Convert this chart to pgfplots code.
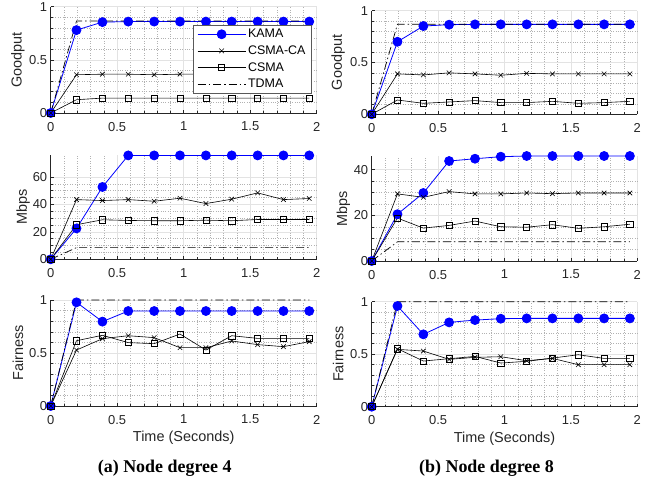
\documentclass[border=0pt]{standalone}
\usepackage{pgfplots}
\pgfplotsset{compat=1.18}
\usepackage{pgfplotstable}
\usepackage{fontspec}
\setmainfont{Liberation Sans}
\newfontfamily\capfont{Liberation Serif}
\definecolor{axgray}{gray}{0.15}
\definecolor{kblue}{rgb}{0,0,1}
\newcommand\tickfont{\fontsize{13}{15}\selectfont}
\newcommand\labfont{\fontsize{14.5}{16}\selectfont}
\newcommand\legfont{\fontsize{12.5}{14}\selectfont}

% columns: time, KAMA, CSMA-CA, CSMA, TDMA
\pgfplotstableread{
t kama ca cs td
0 0 0 0 0
0.194 0.78 0.36 0.125 0.865
0.389 0.855 0.365 0.14 0.865
0.583 0.86 0.365 0.14 0.865
0.778 0.86 0.36 0.14 0.865
0.972 0.86 0.365 0.14 0.865
1.167 0.86 0.365 0.14 0.865
1.361 0.86 0.365 0.14 0.865
1.556 0.86 0.365 0.14 0.865
1.750 0.86 0.365 0.14 0.865
1.944 0.86 0.365 0.14 0.865
}\goodA
\pgfplotstableread{
t kama ca cs td
0 0 0 0 0
0.194 0.70 0.39 0.138 0.87
0.389 0.852 0.38 0.106 0.87
0.583 0.865 0.40 0.119 0.87
0.778 0.868 0.39 0.132 0.87
0.972 0.868 0.377 0.113 0.87
1.167 0.868 0.395 0.113 0.87
1.361 0.868 0.39 0.125 0.87
1.556 0.868 0.39 0.106 0.87
1.750 0.868 0.39 0.113 0.87
1.944 0.868 0.39 0.125 0.87
}\goodB
\pgfplotstableread{
t kama ca cs td
0 0 0 0 0
0.194 22.5 43.5 25.2 8.5
0.389 52.7 42.8 28.8 8.5
0.583 75.7 43.5 28.3 8.5
0.778 75.7 42.3 28.1 8.5
0.972 75.7 44.5 28.1 8.5
1.167 75.7 40.6 28.5 8.5
1.361 75.7 43.8 28.1 8.5
1.556 75.7 48.4 29.0 8.5
1.750 75.7 43.5 29.0 8.5
1.944 75.7 44.3 29.0 8.5
}\mbpsA
\pgfplotstableread{
t kama ca cs td
0 0 0 0 0
0.194 20.5 29.4 18.8 8.4
0.389 29.8 27.9 14.4 8.4
0.583 43.8 30.4 15.6 8.4
0.778 44.8 29.4 17.5 8.4
0.972 45.7 29.4 15.0 8.4
1.167 46.0 29.8 14.8 8.4
1.361 46.0 29.5 15.9 8.4
1.556 46.0 29.8 14.3 8.4
1.750 46.0 29.8 15.0 8.4
1.944 46.0 29.8 16.1 8.4
}\mbpsB
\pgfplotstableread{
t kama ca cs td
0 0 0 0 0
0.194 0.978 0.528 0.616 1
0.389 0.796 0.635 0.667 1
0.583 0.896 0.663 0.598 1
0.778 0.896 0.645 0.588 1
0.972 0.896 0.55 0.679 1
1.167 0.896 0.55 0.528 1
1.361 0.896 0.613 0.663 1
1.556 0.896 0.579 0.638 1
1.750 0.896 0.56 0.638 1
1.944 0.896 0.607 0.638 1
}\fairA
\pgfplotstableread{
t kama ca cs td
0 0 0 0 0
0.194 0.959 0.546 0.552 1
0.389 0.689 0.530 0.435 1
0.583 0.803 0.451 0.457 1
0.778 0.825 0.47 0.479 1
0.972 0.838 0.476 0.416 1
1.167 0.841 0.438 0.432 1
1.361 0.841 0.46 0.463 1
1.556 0.841 0.40 0.495 1
1.750 0.841 0.40 0.46 1
1.944 0.841 0.40 0.46 1
}\fairB

\pgfplotsset{
  panel/.style={
    scale only axis, anchor=south west,
    xmin=0, xmax=2, ymin=0,
    axis lines*=left,
    axis line style={axgray, line width=0.5bp},
    xtick={0,0.5,1,1.5,2}, minor x tick num=4,
    grid=both,
    major grid style={gray!22, line width=0.5bp},
    minor grid style={gray!60, dotted, line width=0.5bp},
    tick align=inside, major tick length=3bp, minor tick length=1.8bp,
    tick style={axgray, line width=0.5bp},
    /pgf/number format/assume math mode=true,
    xticklabel style={font=\tickfont, text=axgray, yshift=-5.5bp},
    yticklabel style={font=\tickfont, text=axgray},
    every axis x label/.style={at={(axis description cs:0.5,0)}, anchor=center,
      yshift=-32bp, font=\labfont, text=axgray},
    clip=false,
  },
  ylab/.style={every axis y label/.style={at={(axis description cs:#1,0.5)},
      rotate=90, anchor=center, font=\labfont, text=axgray}},
  kama/.style={kblue, line width=0.8bp, mark=*, mark size=4.5bp, mark options={solid, fill=kblue}},
  ca/.style={black, line width=0.6bp, mark=x, mark size=3.2bp, mark options={solid}},
  cs/.style={black, line width=0.6bp, mark=square, mark size=3.1bp, mark options={solid}},
  td/.style={black, line width=0.7bp, dash pattern=on 8bp off 3bp on 1.5bp off 3bp},
}

\newcommand\series[1]{%
  \addplot[kama] table[x=t, y=kama] {#1};
  \addplot[ca] table[x=t, y=ca] {#1};
  \addplot[cs] table[x=t, y=cs] {#1};
  \addplot[td] table[x=t, y=td] {#1};
}

\begin{document}
\begin{tikzpicture}
\useasboundingbox (0,0) rectangle (647bp,480bp);

% left column: node degree 4
\begin{axis}[panel, ylab=-0.123, at={(50.7bp,367bp)}, width=266bp, height=106.3bp,
  ymax=1, ytick={0,0.5,1}, minor y tick num=4, ylabel={Goodput},
  legend style={at={(axis description cs:0.981,0.832)}, anchor=north east,
    draw=gray!70!black, fill=white, font=\legfont,
    row sep=2.5bp, inner xsep=4bp, inner ysep=2.5bp},
  legend cell align=left,
  legend image code/.code={\draw[mark repeat=2, mark phase=2] plot coordinates {(0bp,0bp) (24bp,0bp) (48bp,0bp)};}]
\series{\goodA}
\legend{KAMA, CSMA-CA, CSMA, TDMA}
\end{axis}

\begin{axis}[panel, ylab=-0.104, at={(50.7bp,220.7bp)}, width=266bp, height=104.3bp,
  ymax=76, ytick={0,20,40,60}, minor y tick num=3, ylabel={Mbps}]
\series{\mbpsA}
\end{axis}

\begin{axis}[panel, ylab=-0.123, at={(50.7bp,74bp)}, width=266bp, height=106bp,
  ymax=1, ytick={0,0.5,1}, minor y tick num=4, ylabel={Fairness}, xlabel={Time (Seconds)}]
\series{\fairA}
\end{axis}

% right column: node degree 8
\begin{axis}[panel, ylab=-0.126, at={(371.7bp,365.7bp)}, width=265.6bp, height=103.6bp,
  ymax=1, ytick={0,0.5,1}, minor y tick num=4, ylabel={Goodput}]
\series{\goodB}
\end{axis}

\begin{axis}[panel, ylab=-0.107, at={(371.7bp,219bp)}, width=265.6bp, height=105bp,
  ymax=46, ytick={0,20,40}, minor y tick num=3, ylabel={Mbps}]
\series{\mbpsB}
\end{axis}

\begin{axis}[panel, ylab=-0.126, at={(371.7bp,73.3bp)}, width=265.6bp, height=105bp,
  ymax=1, ytick={0,0.5,1}, minor y tick num=4, ylabel={Fairness}, xlabel={Time (Seconds)}]
\series{\fairB}
\end{axis}

\node[font=\capfont\bfseries\fontsize{18}{20}\selectfont] at (164.7bp,12bp) {(a) Node degree 4};
\node[font=\capfont\bfseries\fontsize{18}{20}\selectfont] at (486.5bp,12bp) {(b) Node degree 8};
\end{tikzpicture}
\end{document}
